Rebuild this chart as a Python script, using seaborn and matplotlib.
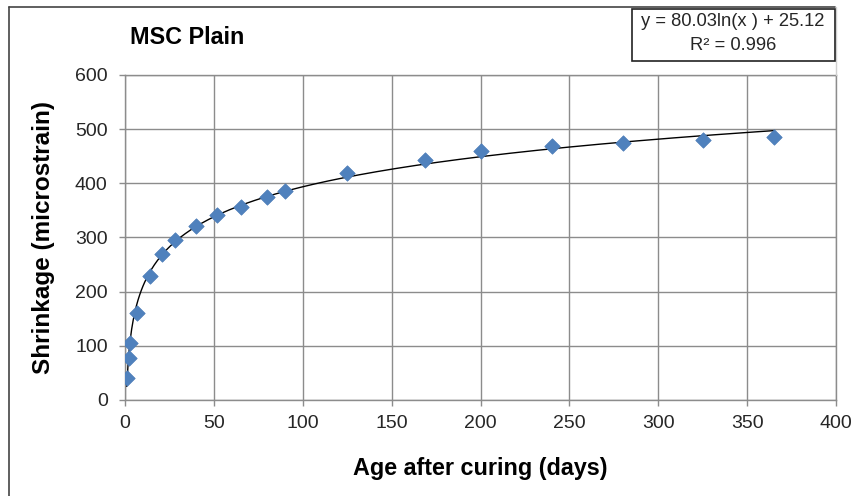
import numpy as np
import pandas as pd
import matplotlib
matplotlib.use("Agg")
import matplotlib.pyplot as plt
from matplotlib.lines import Line2D
from matplotlib.patches import Rectangle
import seaborn as sns

# Measured drying shrinkage of the plain MSC mix
age_days = [1, 2, 3, 7, 14, 21, 28, 40, 52, 65, 80, 90, 125, 169, 200, 240, 280, 325, 365]
shrinkage = [40, 77, 106, 160, 229, 270, 295, 321, 341, 357, 374, 386, 419, 443, 459, 469, 474, 480, 485]

# Logarithmic trend line coefficients (y = a ln(x) + b)
fit_a = 80.03
fit_b = 25.12
fit_r2 = 0.996

title = "MSC Plain"
x_label = "Age after curing (days)"
y_label = "Shrinkage (microstrain)"
x_ticks = [0, 50, 100, 150, 200, 250, 300, 350, 400]
y_ticks = [0, 100, 200, 300, 400, 500, 600]

df = pd.DataFrame({"age": age_days, "shrinkage": shrinkage})
trend_x = np.linspace(min(age_days), max(age_days), 400)
trend = pd.DataFrame({"age": trend_x, "shrinkage": fit_a * np.log(trend_x) + fit_b})

sns.set_theme(style="white")
plt.rcParams["font.family"] = ["Liberation Sans", "DejaVu Sans"]

W, H = 858, 496
fig = plt.figure(figsize=(W / 100, H / 100), dpi=100)
fig.patch.set_facecolor("white")

def fx(px):
    return px / W

def fy(py):
    return 1 - py / H

ax = fig.add_axes([fx(125), fy(400), fx(836) - fx(125), fy(75) - fy(400)])

grid_c = "#8c8c8c"
sns.lineplot(data=trend, x="age", y="shrinkage", ax=ax, color="black", lw=1.0,
             zorder=3, legend=False)
sns.scatterplot(data=df, x="age", y="shrinkage", ax=ax, marker="D", s=62,
                color="#4F81BD", edgecolor="#4A7BB7", linewidth=0.5, zorder=4,
                legend=False)

ax.set_xlim(0, 400)
ax.set_ylim(0, 600)
ax.set_xticks(x_ticks)
ax.set_yticks(y_ticks)
ax.grid(True, color=grid_c, lw=1.0)
ax.set_axisbelow(True)
for s in ax.spines.values():
    s.set_color(grid_c)
    s.set_linewidth(1.0)
ax.tick_params(axis="both", which="major", direction="out", length=4, width=1.0,
               color=grid_c, labelsize=14, labelcolor="#262626", pad=7,
               bottom=True, left=True)
ax.tick_params(axis="y", pad=8.5)
ax.set_xlabel("")
ax.set_ylabel("")

# Axis titles and chart title
fig.text(fx(480), fy(469), x_label, ha="center", va="center", fontsize=16.8,
         fontweight="bold", color="black")
fig.text(fx(44), fy(237), y_label, ha="center", va="center", fontsize=17.5,
         fontweight="bold", color="black", rotation=90)
fig.text(fx(187), fy(37), title, ha="center", va="center", fontsize=16.8,
         fontweight="bold", color="black")

# Trend line equation box
fig.add_artist(Rectangle((fx(632), fy(61)), fx(835) - fx(632), fy(9) - fy(61),
                         transform=fig.transFigure, facecolor="white",
                         edgecolor="#222222", lw=1.2, zorder=5))
fig.text(fx(733), fy(22), f"y = {fit_a:.2f}ln(x ) + {fit_b:.2f}", ha="center",
         va="center", fontsize=13.2, color="#262626", zorder=6)
fig.text(fx(733), fy(45), f"R² = {fit_r2:.3f}", ha="center", va="center",
         fontsize=13.2, color="#262626", zorder=6)

# Chart frame
fig.add_artist(Line2D([fx(9), fx(835)], [fy(7), fy(7)], transform=fig.transFigure,
                      color="#444444", lw=1.2))
fig.add_artist(Line2D([fx(9), fx(9)], [fy(7), fy(496)], transform=fig.transFigure,
                      color="#444444", lw=1.2))
fig.add_artist(Line2D([fx(836), fx(836)], [fy(7), fy(75)], transform=fig.transFigure,
                      color="#d0d0d0", lw=1.0))

fig.savefig("out.png", dpi=100, facecolor="white")
